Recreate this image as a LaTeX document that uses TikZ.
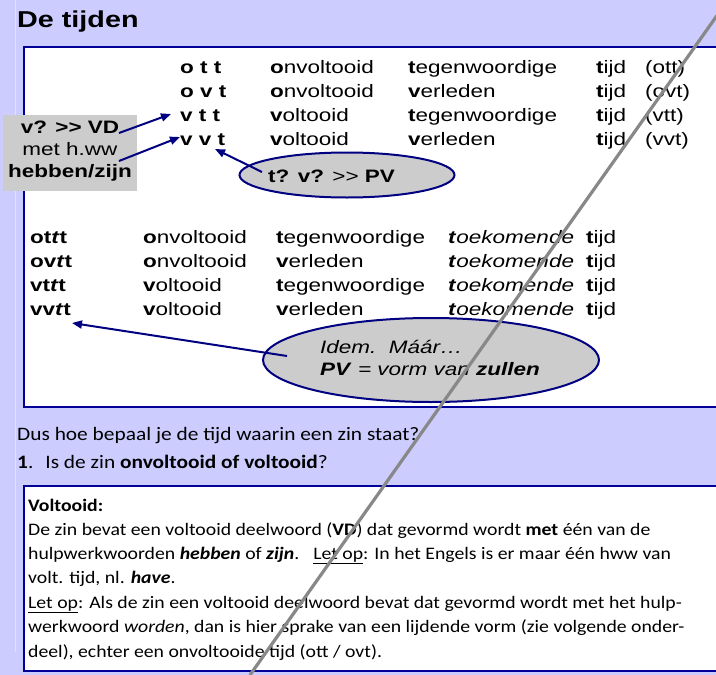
\documentclass[tikz,border=0pt]{standalone}
\usepackage{fontspec}
\setmainfont{Liberation Sans}[FakeStretch=1.25]
\newfontfamily\calf{Carlito}[FakeStretch=1.125]
\usetikzlibrary{arrows.meta,shapes.geometric}
\definecolor{bgc}{RGB}{204,204,255}
\definecolor{linec}{RGB}{224,224,255}
\definecolor{navyc}{RGB}{0,0,128}
\definecolor{boxc}{RGB}{0,0,153}
\definecolor{grayc}{RGB}{204,204,204}
\definecolor{slashc}{RGB}{136,136,136}
\begin{document}
\begin{tikzpicture}[x=1pt,y=-1pt,
  txt/.style={anchor=base west,inner sep=0pt,font=\fontsize{18}{22}\selectfont},
  ctxt/.style={anchor=base,inner sep=0pt,font=\fontsize{18}{22}\selectfont},
  cal/.style={anchor=base west,inner sep=0pt,font=\calf\fontsize{19}{23}\selectfont},
  calb/.style={anchor=base west,inner sep=0pt,font=\calf\fontsize{17.55}{21}\selectfont},
  arr/.style={draw=navyc,line width=2pt,-{Triangle[length=10pt,width=8pt]}},
  ell/.style={ellipse,draw=navyc,fill=grayc,line width=2pt,inner sep=0pt},
  panel/.style={draw=boxc,fill=white,line width=1.5pt}]
\useasboundingbox (0,0) rectangle (716,675);
\fill[bgc] (0,0) rectangle (716,675);
\draw[linec,line width=1.2pt] (15.5,0) -- (15.5,652);
% title
\node[txt,font=\fontsize{23}{26}\selectfont\bfseries] (title) at (17,27) {De tijden};
% panels
\node[panel,anchor=north west,minimum width=697pt,minimum height=360pt] (top) at (23,46) {};
\node[panel,anchor=north west,minimum width=697pt,minimum height=185pt] (bot) at (23,485) {};
% top table
\node[txt] (r1c1) at (180,73) {\textbf{o t t}};
\node[txt] (r2c1) at (180,97) {\textbf{o v t}};
\node[txt] (r3c1) at (180,121) {\textbf{v t t}};
\node[txt] (r4c1) at (180,145) {\textbf{v v t}};
\node[txt] (r1c2) at (270,73) {\textbf{o}nvoltooid};
\node[txt] (r2c2) at (270,97) {\textbf{o}nvoltooid};
\node[txt] (r3c2) at (270,121) {\textbf{v}oltooid};
\node[txt] (r4c2) at (270,145) {\textbf{v}oltooid};
\node[txt] (r1c3) at (408,73) {\textbf{t}egenwoordige};
\node[txt] (r2c3) at (408,97) {\textbf{v}erleden};
\node[txt] (r3c3) at (408,121) {\textbf{t}egenwoordige};
\node[txt] (r4c3) at (408,145) {\textbf{v}erleden};
\node[txt] (r1c4) at (596,73) {\textbf{t}ijd};
\node[txt] (r2c4) at (596,97) {\textbf{t}ijd};
\node[txt] (r3c4) at (596,121) {\textbf{t}ijd};
\node[txt] (r4c4) at (596,145) {\textbf{t}ijd};
\node[txt] (r1c5) at (645,73) {(ott)};
\node[txt] (r2c5) at (645,97) {(ovt)};
\node[txt] (r3c5) at (645,121) {(vtt)};
\node[txt] (r4c5) at (645,145) {(vvt)};
% left grey box
\fill[grayc] (3,115) rectangle (137,191);
\node[ctxt] (lb1) at (70,133) {\textbf{v? >{}> VD}};
\node[ctxt] (lb2) at (70,155) {met h.ww};
\node[ctxt] (lb3) at (70,177) {\textbf{hebben/zijn}};
% small ellipse
\node[ell,minimum width=215pt,minimum height=45pt] (e1) at (347,175) {};
\node[txt] (e1t) at (268,182) {\textbf{t? v?} >{}> \textbf{PV}};
% lower table
\node[txt] (s1c1) at (30,243) {\textbf{ot\textit{t}t}};
\node[txt] (s2c1) at (30,267) {\textbf{ov\textit{t}t}};
\node[txt] (s3c1) at (30,291) {\textbf{vt\textit{t}t}};
\node[txt] (s4c1) at (30,315) {\textbf{vv\textit{t}t}};
\node[txt] (s1c2) at (143,243) {\textbf{o}nvoltooid};
\node[txt] (s2c2) at (143,267) {\textbf{o}nvoltooid};
\node[txt] (s3c2) at (143,291) {\textbf{v}oltooid};
\node[txt] (s4c2) at (143,315) {\textbf{v}oltooid};
\node[txt] (s1c3) at (276,243) {\textbf{t}egenwoordige};
\node[txt] (s2c3) at (276,267) {\textbf{v}erleden};
\node[txt] (s3c3) at (276,291) {\textbf{t}egenwoordige};
\node[txt] (s4c3) at (276,315) {\textbf{v}erleden};
\node[txt] (s1c4) at (448,243) {\textbf{\textit{t}}\textit{oekomende}};
\node[txt] (s2c4) at (448,267) {\textbf{\textit{t}}\textit{oekomende}};
\node[txt] (s3c4) at (448,291) {\textbf{\textit{t}}\textit{oekomende}};
\node[txt] (s4c4) at (448,315) {\textbf{\textit{t}}\textit{oekomende}};
\node[txt] (s1c5) at (586,243) {\textbf{t}ijd};
\node[txt] (s2c5) at (586,267) {\textbf{t}ijd};
\node[txt] (s3c5) at (586,291) {\textbf{t}ijd};
\node[txt] (s4c5) at (586,315) {\textbf{t}ijd};
% big ellipse
\node[ell,minimum width=336pt,minimum height=84pt] (e2) at (431,360) {};
\node[txt] (e2a) at (320,353) {\textit{Idem.\ \ Máár…}};
\node[txt] (e2b) at (320,375) {\textbf{\textit{PV}}\textit{ = vorm van }\textbf{\textit{zullen}}};
% arrows
\coordinate (a1s) at (119,133);
\coordinate (a1e) at (171,114);
\coordinate (a2s) at (119,161);
\coordinate (a2e) at (180,137);
\coordinate (a3s) at (262,172);
\coordinate (a3e) at (215,149);
\coordinate (a4s) at (287,356);
\coordinate (a4e) at (72,323);
\draw[arr] (a1s) -- (a1e);
\draw[arr] (a2s) -- (a2e);
\draw[arr] (a3s) -- (a3e);
\draw[arr] (a4s) -- (a4e);
% bottom text
\node[cal] (q1) at (17,440) {Dus hoe bepaal je de tijd waarin een zin staat?};
\node[cal] (q2) at (17,468) {\textbf{1}.\hspace{12pt}Is de zin \textbf{onvoltooid of voltooid}?};
\node[calb] (l1) at (28,511) {\textbf{Voltooid:}};
\node[calb] (l2) at (28,535) {De zin bevat een voltooid deelwoord (\textbf{VD}) dat gevormd wordt \textbf{met} één van de};
\node[calb] (l3) at (28,559) {hulpwerkwoorden \textbf{\textit{hebben}} of \textbf{\textit{zijn}}.\hspace{14pt}\underline{Let op}: In het Engels is er maar één hww van};
\node[calb] (l4) at (28,583) {volt. tijd, nl. \textbf{\textit{have}}.};
\node[calb] (l5) at (28,608) {\underline{Let op}: Als de zin een voltooid deelwoord bevat dat gevormd wordt met het hulp-};
\node[calb] (l6) at (28,632) {werkwoord \textit{worden}, dan is hier sprake van een lijdende vorm (zie volgende onder-};
\node[calb] (l7) at (28,657) {deel), echter een onvoltooide tijd (ott / ovt).};
% slash
\draw[slashc,line width=3.2pt] (728,0) -- (250,675);
\end{tikzpicture}
\end{document}
